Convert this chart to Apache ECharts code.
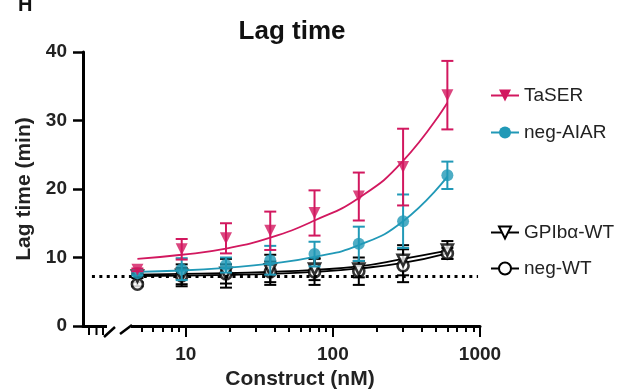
<!DOCTYPE html>
<html>
<head>
<meta charset="utf-8">
<script src="https://cdn.jsdelivr.net/npm/echarts@6/dist/echarts.min.js"></script>
<style>
  html, body { margin: 0; padding: 0; background: #fff; }
  #chart { width: 641px; height: 390px; }
</style>
</head>
<body>
<div id="chart"></div>
<script>
// construct concentrations (nM)
const conc = [4.6875, 9.375, 18.75, 37.5, 75, 150, 300, 600]

const taserMean = [8.2, 11.2, 12.8, 13.9, 16.5, 18.9, 23.2, 33.7]
const taserSd = [0.2, 1.5, 2.2, 2.8, 3.3, 3.5, 5.6, 5.0]
const taserFit = [9.8, 10.4, 11.3, 12.9, 15.4, 18.7, 24.1, 32.6]

const aiarMean = [7.7, 8.3, 8.9, 9.6, 10.5, 12.0, 15.3, 22.0]
const aiarSd = [0.3, 1.6, 1.1, 2.1, 1.8, 2.5, 3.9, 2.0]
const aiarFit = [7.9, 8.1, 8.5, 9.1, 10.1, 11.8, 15.3, 21.8]

const gpMean = [7.3, 7.4, 7.7, 8.2, 8.3, 8.3, 9.6, 11.1]
const gpSd = [0.3, 1.6, 2.1, 2.2, 1.6, 1.2, 2.2, 1.3]
const gpFit = [7.5, 7.6, 7.7, 7.9, 8.2, 8.7, 9.8, 11.0]

const negMean = [6.1, 7.3, 7.6, 7.9, 7.9, 8.0, 8.8, 10.6]
const negSd = [0.3, 1.2, 1.4, 1.5, 1.9, 2.0, 2.4, 0.8]
const negFit = [7.3, 7.35, 7.45, 7.6, 7.9, 8.4, 9.2, 10.6]

const baseline = 7.3
const xLabels = [10, 100, 1000]
const xMinor = [5, 6, 7, 8, 9, 20, 30, 40, 50, 60, 70, 80, 90, 200, 300, 400, 500, 600, 700, 800, 900]

const MAGENTA = '#d2185f'
const TEAL = '#2199b7'
const BLACK = '#000'
const FONT = 'Liberation Sans, Arial, sans-serif'

function pairs(ys) {
  return conc.map((c, i) => [c, ys[i]])
}

function bars(mean, sd) {
  return conc.map((c, i) => [c, mean[i] - sd[i], mean[i] + sd[i]])
}

function errorBar(color) {
  return function (params, api) {
    const x = api.value(0)
    const lo = api.coord([x, api.value(1)])
    const hi = api.coord([x, api.value(2)])
    const w = 6
    const style = { stroke: color, lineWidth: 2, fill: null }
    return {
      type: 'group',
      children: [
        { type: 'line', shape: { x1: lo[0], y1: lo[1], x2: hi[0], y2: hi[1] }, style },
        { type: 'line', shape: { x1: lo[0] - w, y1: lo[1], x2: lo[0] + w, y2: lo[1] }, style },
        { type: 'line', shape: { x1: hi[0] - w, y1: hi[1], x2: hi[0] + w, y2: hi[1] }, style }
      ]
    }
  }
}

// one group = fitted curve + error bars + points
function group(name, color, fit, mean, sd, symbol, rotate, filled, z) {
  return [
    {
      name, type: 'line', data: pairs(fit), smooth: 0.5,
      symbol, symbolRotate: rotate, showSymbol: false,
      lineStyle: { color, width: 1.8 }, itemStyle: { color },
      z, silent: true
    },
    {
      name, type: 'custom', data: bars(mean, sd), renderItem: errorBar(color),
      encode: { x: 0, y: [1, 2] }, z: z + 1, silent: true
    },
    {
      name, type: 'scatter', data: pairs(mean),
      symbol: symbol.replace('empty', '').toLowerCase(), symbolRotate: rotate,
      symbolSize: filled ? 12 : 11,
      itemStyle: filled ? { color } : { color: '#fff', borderColor: color, borderWidth: 2.6 },
      z: z + 2, silent: true
    }
  ]
}

const gpSeries = group('GPIbα-WT', BLACK, gpFit, gpMean, gpSd, 'emptyTriangle', 180, false, 2)
gpSeries[0].markLine = {
  silent: true, symbol: ['none', 'none'], label: { show: false },
  lineStyle: { color: BLACK, type: [3, 4.4], width: 3 },
  data: [[{ coord: [2.3, baseline] }, { coord: [970, baseline] }]]
}

const series = [].concat(
  group('neg-WT', BLACK, negFit, negMean, negSd, 'emptyCircle', 0, false, 2),
  gpSeries,
  group('neg-AIAR', TEAL, aiarFit, aiarMean, aiarSd, 'circle', 0, true, 6),
  group('TaSER', MAGENTA, taserFit, taserMean, taserSd, 'triangle', 180, true, 9)
)

const legendText = { fontSize: 19, fontFamily: FONT, color: '#222' }

const option = {
  animation: false,
  backgroundColor: '#fff',
  title: {
    text: 'Lag time', left: 287, top: 14, textAlign: 'center',
    textStyle: { fontSize: 26, fontWeight: 'bold', fontFamily: FONT, color: '#111' }
  },
  legend: [
    {
      orient: 'vertical', left: 490, top: 86, padding: 0, itemGap: 18,
      itemWidth: 28, itemHeight: 15, textStyle: legendText, selectedMode: false,
      data: ['TaSER', 'neg-AIAR']
    },
    {
      orient: 'vertical', left: 490, top: 223, padding: 0, itemGap: 17,
      itemWidth: 28, itemHeight: 15, textStyle: legendText, selectedMode: false,
      data: ['GPIbα-WT', 'neg-WT']
    }
  ],
  grid: { left: 83, right: 161, top: 52, bottom: 64, containLabel: false, outerBoundsMode: 'none' },
  xAxis: [
    {
      type: 'log', min: 2, max: 1000,
      name: 'Construct (nM)', nameLocation: 'middle', nameGap: 39,
      nameTextStyle: { fontSize: 21, fontWeight: 'bold', fontFamily: FONT, color: '#222', padding: [0, 0, 0, 37] },
      axisLine: { show: true, onZero: false, lineStyle: { color: BLACK, width: 3 } },
      axisTick: { customValues: xLabels, length: 11, lineStyle: { color: BLACK, width: 2 } },
      axisLabel: {
        customValues: xLabels, margin: 19, formatter: v => String(v),
        fontSize: 19, fontWeight: 'bold', fontFamily: FONT, color: '#222'
      },
      splitLine: { show: false }
    },
    {
      type: 'log', min: 2, max: 1000, position: 'bottom', gridIndex: 0,
      axisLine: { show: false },
      axisTick: { customValues: xMinor, length: 6, lineStyle: { color: BLACK, width: 2 } },
      axisLabel: { show: false },
      splitLine: { show: false }
    }
  ],
  yAxis: {
    type: 'value', min: 0, max: 40, interval: 10,
    name: 'Lag time (min)', nameLocation: 'middle', nameGap: 40,
    nameTextStyle: { fontSize: 21, fontWeight: 'bold', fontFamily: FONT, color: '#222' },
    axisLine: { show: true, lineStyle: { color: BLACK, width: 3 } },
    axisTick: { show: true, length: 10, lineStyle: { color: BLACK, width: 2.5 } },
    axisLabel: { margin: 16, fontSize: 19, fontWeight: 'bold', fontFamily: FONT, color: '#222' },
    splitLine: { show: false }
  },
  graphic: [
    { type: 'text', left: 18, top: -5, z: 100, style: { text: 'H', font: 'bold 20px ' + FONT, fill: '#111' } },
    // axis break
    { type: 'rect', z: 100, shape: { x: 107, y: 321, width: 24, height: 10 }, style: { fill: '#fff' } },
    { type: 'line', z: 101, shape: { x1: 89, y1: 326, x2: 89, y2: 335 }, style: { stroke: BLACK, lineWidth: 2 } },
    { type: 'line', z: 101, shape: { x1: 96.5, y1: 326, x2: 96.5, y2: 335 }, style: { stroke: BLACK, lineWidth: 2 } },
    { type: 'line', z: 101, shape: { x1: 103, y1: 326, x2: 103, y2: 335 }, style: { stroke: BLACK, lineWidth: 2 } },
    { type: 'line', z: 101, shape: { x1: 104, y1: 337, x2: 115, y2: 327 }, style: { stroke: BLACK, lineWidth: 2.5 } },
    { type: 'line', z: 101, shape: { x1: 120, y1: 334, x2: 132, y2: 325 }, style: { stroke: BLACK, lineWidth: 2.5 } }
  ],
  series
}

const myChart = echarts.init(document.getElementById('chart'))
myChart.setOption(option)
</script>
</body>
</html>
